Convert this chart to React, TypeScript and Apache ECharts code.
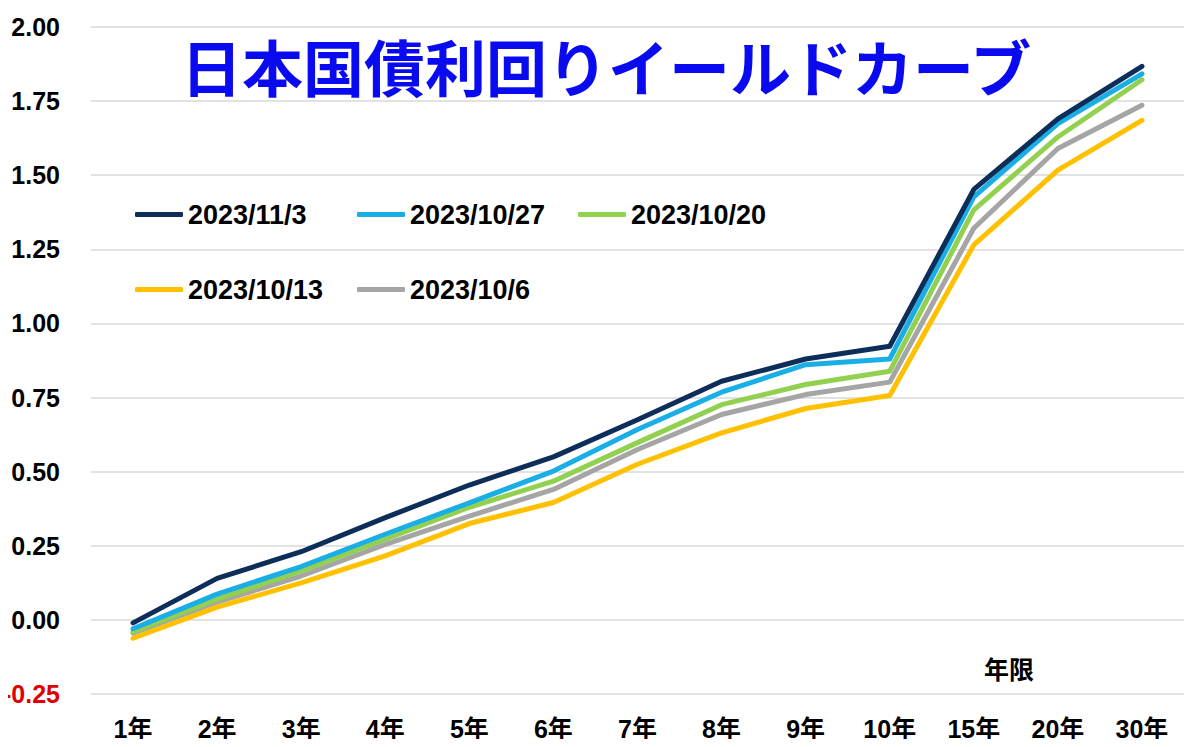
import React, { useEffect, useRef } from "react";
import * as echarts from "echarts";

const categories = ["1年", "2年", "3年", "4年", "5年", "6年", "7年", "8年", "9年", "10年", "15年", "20年", "30年"];
const seriesNames = ["2023/11/3", "2023/10/27", "2023/10/20", "2023/10/13", "2023/10/6"];
const s20231103 = [-0.01, 0.14, 0.23, 0.345, 0.455, 0.55, 0.675, 0.805, 0.88, 0.923, 1.452, 1.69, 1.867];
const s20231027 = [-0.03, 0.087, 0.18, 0.289, 0.395, 0.502, 0.642, 0.768, 0.861, 0.88, 1.427, 1.674, 1.842];
const s20231020 = [-0.04, 0.07, 0.165, 0.272, 0.38, 0.468, 0.598, 0.726, 0.794, 0.839, 1.383, 1.629, 1.822];
const s20231013 = [-0.062, 0.043, 0.125, 0.216, 0.325, 0.396, 0.525, 0.631, 0.713, 0.757, 1.265, 1.517, 1.685];
const s20231006 = [-0.045, 0.06, 0.148, 0.255, 0.35, 0.44, 0.575, 0.693, 0.76, 0.802, 1.321, 1.59, 1.736];
const seriesValues = [s20231103, s20231027, s20231020, s20231013, s20231006];
const seriesColors = ["#0E2E5A", "#1AAEE6", "#92D050", "#FFC000", "#A5A5A5"];
const titleText = "日本国債利回りイールドカーブ";
const axisNameText = "年限";

const LATIN = "'Liberation Sans', Arial, sans-serif";
const CJK = "'Liberation Sans', 'Noto Sans CJK JP', sans-serif";

// legend layout slots (column, row) for each series
const legendSlots = [
  [0, 0],
  [1, 0],
  [2, 0],
  [0, 1],
  [1, 1],
];

export default function App() {
  const ref = useRef<HTMLDivElement>(null);
  useEffect(() => {
    if (!ref.current) return;
    const chart = echarts.init(ref.current, null, { renderer: "svg" });
    const colLeft = [135, 357, 578];
    const rowTop = [201, 276];
    chart.setOption({
      animation: false,
      backgroundColor: "#fff",
      grid: { left: 91, right: 16, top: 27, bottom: 53, containLabel: false, outerBoundsMode: "none" },
      legend: seriesNames.map((name, i) => ({
        data: [name],
        left: colLeft[legendSlots[i][0]],
        top: rowTop[legendSlots[i][1]],
        padding: 0,
        icon: "roundRect",
        itemWidth: 48,
        itemHeight: 5,
        itemStyle: { borderWidth: 0 },
        textStyle: {
          fontFamily: LATIN,
          fontSize: 27,
          fontWeight: "bold",
          color: "#000",
        },
      })),
      xAxis: {
        type: "category",
        data: categories,
        boundaryGap: true,
        axisLine: { show: false },
        axisTick: { show: false },
        axisLabel: {
          fontFamily: CJK,
          fontSize: 25,
          fontWeight: "bold",
          color: "#000",
          margin: 22,
          interval: 0,
        },
        splitLine: { show: false },
      },
      yAxis: {
        type: "value",
        min: -0.25,
        max: 2.0,
        interval: 0.25,
        axisLine: { show: false },
        axisTick: { show: false },
        axisLabel: {
          formatter: (v: number) => (v < 0 ? "{neg|" + v.toFixed(2) + "}" : v.toFixed(2)),
          fontFamily: LATIN,
          fontSize: 25,
          fontWeight: "bold",
          margin: 31,
          color: "#000",
          rich: {
            neg: { color: "#E00000", fontFamily: LATIN, fontSize: 25, fontWeight: "bold" },
          },
        },
        splitLine: { show: true, lineStyle: { color: "#D9D9D9", width: 1.5 } },
      },
      graphic: [
        {
          type: "text",
          left: 181,
          top: 35,
          style: {
            text: titleText,
            fontFamily: "'Noto Sans CJK JP', sans-serif",
            fontSize: 61,
            fontWeight: "bold",
            fill: "#0A0AF0",
          },
        },
        {
          type: "text",
          x: 1009,
          y: 668,
          style: {
            text: axisNameText,
            fontFamily: "'Noto Sans CJK JP', sans-serif",
            fontSize: 25,
            fontWeight: "bold",
            fill: "#000",
            align: "center",
            verticalAlign: "middle",
          },
        },
      ],
      series: seriesNames.map((name, i) => ({
        name,
        type: "line",
        data: seriesValues[i],
        symbol: "none",
        z: 10 - i,
        color: seriesColors[i],
        lineStyle: { width: 5, color: seriesColors[i], cap: "round", join: "round" },
      })),
    });
    return () => chart.dispose();
  }, []);
  return <div ref={ref} style={{ width: 1200, height: 747, margin: -8 }} />;
}
